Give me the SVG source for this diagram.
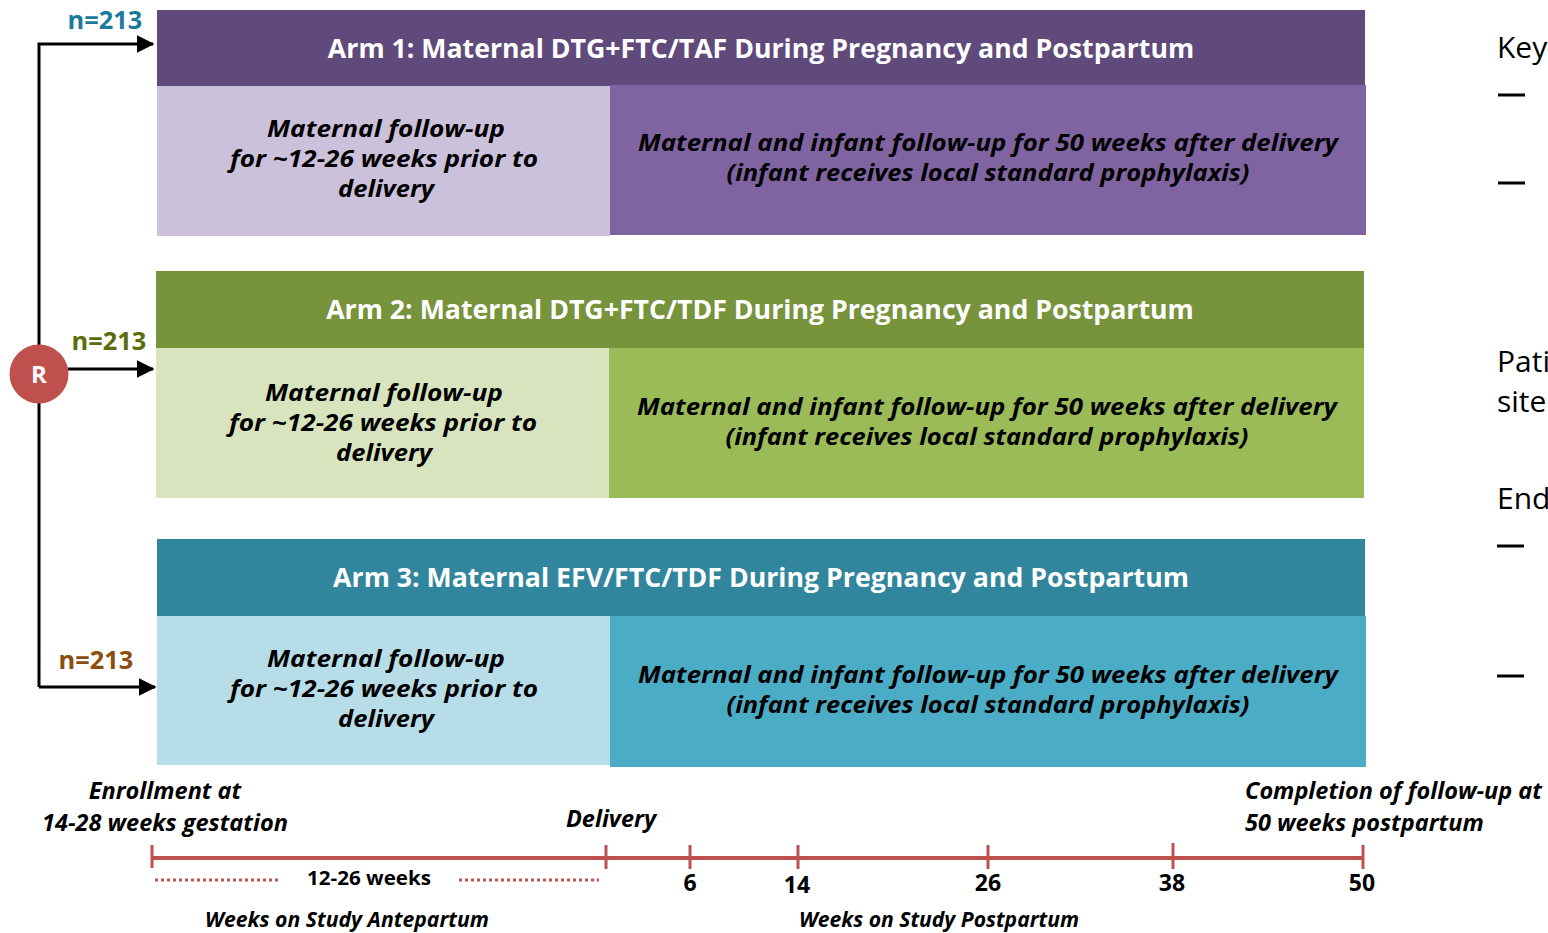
<svg xmlns="http://www.w3.org/2000/svg" width="1548" height="933" viewBox="0 0 1548 933">
<style>
.hdr{font-family:"Open Sans","Liberation Sans",sans-serif;font-weight:bold;font-size:26.7px;fill:#fff;text-anchor:middle}
.bi{font-family:"Open Sans","Liberation Sans",sans-serif;font-weight:bold;font-style:italic;font-size:23px;fill:#000;text-anchor:middle}
.tl{font-family:"Open Sans","Liberation Sans",sans-serif;font-weight:bold;font-style:italic;font-size:23.5px;fill:#000}
.ws{font-family:"Open Sans","Liberation Sans",sans-serif;font-weight:bold;font-style:italic;font-size:21px;fill:#000;text-anchor:middle}
.num{font-family:"Open Sans","Liberation Sans",sans-serif;font-weight:bold;font-size:23px;fill:#000;text-anchor:middle}
.n{font-family:"Open Sans","Liberation Sans",sans-serif;font-weight:bold;font-size:25.4px;text-anchor:middle}
.key{font-family:"Open Sans","Liberation Sans",sans-serif;font-size:30px;fill:#000}
.conn{stroke:#000;stroke-width:3;fill:none}
.tick{stroke:#C0504D;stroke-width:3}
</style>
<defs>
<marker id="ah" markerWidth="6" markerHeight="6" refX="5.5" refY="3" orient="auto" markerUnits="strokeWidth">
<path d="M0,0 L6,3 L0,6 Z" fill="#000"/>
</marker>
</defs>
<rect width="1548" height="933" fill="#fff"/>

<g id="arm1">
<rect x="157" y="10" width="1208" height="76" fill="#604A7B"/>
<rect x="157" y="86" width="453" height="150" fill="#CCC1DA"/>
<rect x="610" y="85" width="756" height="150" fill="#8064A2"/>
<text class="hdr" x="761" y="58">Arm 1: Maternal DTG+FTC/TAF During Pregnancy and Postpartum</text>
<text class="bi" x="386" y="137" textLength="238" lengthAdjust="spacingAndGlyphs">Maternal follow-up</text>
<text class="bi" x="384" y="167" textLength="308" lengthAdjust="spacingAndGlyphs">for ~12-26 weeks prior to</text>
<text class="bi" x="386" y="197" textLength="96" lengthAdjust="spacingAndGlyphs">delivery</text>
<text class="bi" x="988" y="151" textLength="700" lengthAdjust="spacingAndGlyphs">Maternal and infant follow-up for 50 weeks after delivery</text>
<text class="bi" x="988" y="181" textLength="523" lengthAdjust="spacingAndGlyphs">(infant receives local standard prophylaxis)</text>
</g>

<g id="arm2">
<rect x="156" y="271" width="1208" height="77" fill="#77933C"/>
<rect x="156" y="348" width="453" height="150" fill="#D7E4BD"/>
<rect x="609" y="348" width="755" height="150" fill="#9BBB59"/>
<text class="hdr" x="760" y="319">Arm 2: Maternal DTG+FTC/TDF During Pregnancy and Postpartum</text>
<text class="bi" x="384" y="401" textLength="238" lengthAdjust="spacingAndGlyphs">Maternal follow-up</text>
<text class="bi" x="383" y="431" textLength="308" lengthAdjust="spacingAndGlyphs">for ~12-26 weeks prior to</text>
<text class="bi" x="384" y="461" textLength="96" lengthAdjust="spacingAndGlyphs">delivery</text>
<text class="bi" x="987" y="415" textLength="700" lengthAdjust="spacingAndGlyphs">Maternal and infant follow-up for 50 weeks after delivery</text>
<text class="bi" x="987" y="445" textLength="523" lengthAdjust="spacingAndGlyphs">(infant receives local standard prophylaxis)</text>
</g>

<g id="arm3">
<rect x="157" y="539" width="1208" height="77" fill="#31859C"/>
<rect x="157" y="616" width="453" height="149" fill="#B7DEE8"/>
<rect x="610" y="616" width="756" height="151" fill="#4BACC6"/>
<text class="hdr" x="761" y="587">Arm 3: Maternal EFV/FTC/TDF During Pregnancy and Postpartum</text>
<text class="bi" x="386" y="667" textLength="238" lengthAdjust="spacingAndGlyphs">Maternal follow-up</text>
<text class="bi" x="384" y="697" textLength="308" lengthAdjust="spacingAndGlyphs">for ~12-26 weeks prior to</text>
<text class="bi" x="386" y="727" textLength="96" lengthAdjust="spacingAndGlyphs">delivery</text>
<text class="bi" x="988" y="683" textLength="700" lengthAdjust="spacingAndGlyphs">Maternal and infant follow-up for 50 weeks after delivery</text>
<text class="bi" x="988" y="713" textLength="523" lengthAdjust="spacingAndGlyphs">(infant receives local standard prophylaxis)</text>
</g>

<g id="connectors">
<polyline class="conn" points="39,687 39,44 153,44" marker-end="url(#ah)"/>
<line class="conn" x1="68" y1="369" x2="153" y2="369" marker-end="url(#ah)"/>
<line class="conn" x1="39" y1="687" x2="155" y2="687" marker-end="url(#ah)"/>
</g>

<g id="R">
<circle cx="39" cy="374" r="29.5" fill="#C0504D"/>
<text x="39" y="383" font-family="Open Sans, Liberation Sans, sans-serif" font-weight="bold" font-size="24" fill="#fff" text-anchor="middle">R</text>
</g>

<g id="labels">
<text class="n" x="105" y="29" fill="#1B7A9C">n=213</text>
<text class="n" x="109" y="350" fill="#5C6B0C">n=213</text>
<text class="n" x="96" y="669" fill="#8B4E0E">n=213</text>
</g>

<g id="timeline">
<line x1="152" y1="858" x2="1363" y2="858" stroke="#C0504D" stroke-width="4"/>
<line class="tick" x1="152" y1="845" x2="152" y2="868"/>
<line class="tick" x1="606" y1="845" x2="606" y2="869"/>
<line class="tick" x1="690" y1="845" x2="690" y2="869"/>
<line class="tick" x1="798" y1="845" x2="798" y2="869"/>
<line class="tick" x1="988" y1="845" x2="988" y2="869"/>
<line class="tick" x1="1173" y1="843" x2="1173" y2="869"/>
<line class="tick" x1="1363" y1="845" x2="1363" y2="869"/>
<line x1="155" y1="880" x2="279" y2="880" stroke="#C0504D" stroke-width="3" stroke-dasharray="3,3"/>
<line x1="459" y1="880" x2="599" y2="880" stroke="#C0504D" stroke-width="3" stroke-dasharray="3,3"/>
<text x="369" y="885" font-family="Open Sans, Liberation Sans, sans-serif" font-weight="bold" font-size="20" text-anchor="middle" fill="#000" textLength="124" lengthAdjust="spacingAndGlyphs">12-26 weeks</text>
<text class="num" x="690" y="891">6</text>
<text class="num" x="797" y="893">14</text>
<text class="num" x="988" y="891">26</text>
<text class="num" x="1172" y="891">38</text>
<text class="num" x="1362" y="891">50</text>
<text class="tl" x="165" y="799" text-anchor="middle">Enrollment at</text>
<text class="tl" x="165" y="831" text-anchor="middle">14-28 weeks gestation</text>
<text class="tl" x="611" y="827" text-anchor="middle">Delivery</text>
<text class="tl" x="1245" y="799">Completion of follow-up at</text>
<text class="tl" x="1245" y="831">50 weeks postpartum</text>
<text class="ws" x="347" y="927" textLength="284" lengthAdjust="spacingAndGlyphs">Weeks on Study Antepartum</text>
<text class="ws" x="939" y="927" textLength="280" lengthAdjust="spacingAndGlyphs">Weeks on Study Postpartum</text>
</g>

<g id="key">
<text class="key" x="1497" y="58">Key</text>
<line x1="1498" y1="95" x2="1525" y2="95" stroke="#000" stroke-width="3"/>
<line x1="1498" y1="183" x2="1525" y2="183" stroke="#000" stroke-width="3"/>
<text class="key" x="1497" y="372">Pati</text>
<text class="key" x="1497" y="412">site</text>
<text class="key" x="1497" y="509">End</text>
<line x1="1497" y1="546" x2="1524" y2="546" stroke="#000" stroke-width="3"/>
<line x1="1497" y1="676" x2="1524" y2="676" stroke="#000" stroke-width="3"/>
</g>
</svg>
